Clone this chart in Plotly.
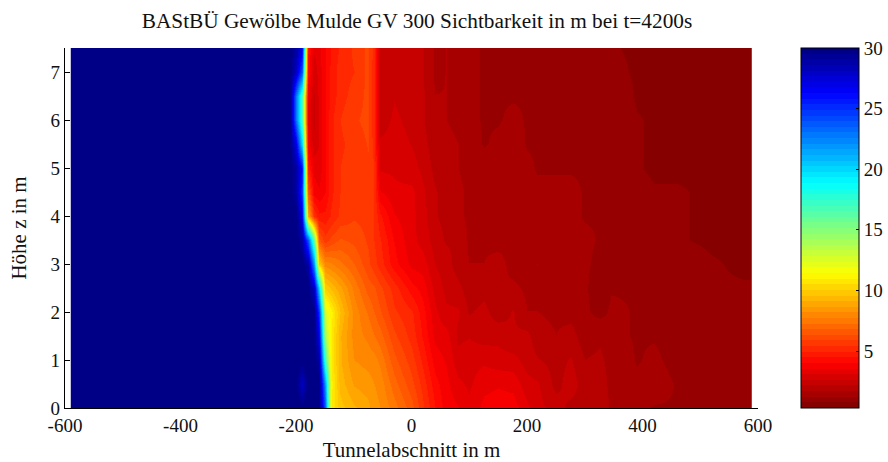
import plotly.graph_objects as go

x_positions = [-585,-575,-210,-200,-190,-180,-170,-160,-150,-140,-125,-100,-75,-65,-55,-30,
               0,20,40,60,80,100,125,150,175,200,217,250,275,300,326,345,390,420,460,520,575,585]
heights = [0,0.5,1,1.5,2,2.5,3,3.5,4,4.5,5,5.5,6,6.5,7,7.5]

row_000 = [30,30,30,30,30,30,30,30,24,11,9.8,9.2,8.8,8.4,8.2,7.5, 6.5,5.5,4.5,3.8,3.6,3.2,3.7,3.8,3.8,3.2,2.8,2.4,2.0,1.9,2.1,1.6,1.3,1.2,1.2,1.1,1.0,1.0]
row_050 = [30,30,30,30,28,30,30,30,22,11.2,9.4,8.6,8.4,8.2,8,7, 6,5.2,4.2,3.7,3.2,3.0,3.4,3.5,3.4,2.8,2.7,2.0,2.4,1.9,2.0,1.5,1.3,1.4,1.2,1.1,1.0,1.0]
row_100 = [30,30,30,30,30,30,30,29,17,11,9.2,8.2,8.0,7.9,7.6,6.5, 5.6,4.8,3.8,3.5,2.8,2.9,3.0,2.8,2.8,2.4,2.2,2.0,2.2,1.7,1.8,1.5,1.2,1.3,1.1,1.0,0.9,0.9]
row_150 = [30,30,30,30,30,30,30,27,14,11,9.2,8.0,7.6,7.3,7,6, 5.2,4.4,3.4,3.3,2.5,2.6,2.4,2.5,2.2,2.3,1.9,1.7,1.9,1.4,1.6,1.3,1.2,1.2,1.1,1.0,0.8,0.8]
row_200 = [30,30,30,30,30,30,30,25,12.5,11.2,9.6,8.0,7.2,6.8,6.4,5.5, 5,4.2,3.2,2.7,2.7,2.1,2.3,1.9,2.2,1.7,1.7,1.6,1.5,1.3,1.1,1.3,1.2,1.1,1.1,1.0,0.8,0.8]
row_250 = [30,30,30,30,30,30,28,20,10,9.5,8.8,7.6,6.6,6.4,6,5.2, 4.2,3.8,2.9,2.5,2.3,1.9,2.0,1.7,1.8,1.6,1.6,1.6,1.5,1.3,0.9,1.2,1.2,1.1,1.1,0.8,0.8,0.8]
row_300 = [30,30,30,30,30,29,22,10,8,7.8,7.4,6.8,6,5.6,5.2,4.2, 3.4,3.3,2.6,2.4,1.9,1.7,1.7,1.9,1.5,1.4,1.7,1.4,1.4,1.3,1.1,1.2,1.2,1.1,1.0,0.8,0.7,0.7]
row_350 = [30,30,30,30,29,24,16,6.5,5.6,6,6.4,6.2,5.8,5.4,5,4, 3.2,2.9,2.4,2.1,2.1,1.6,1.6,1.5,1.6,1.3,1.3,1.4,1.3,1.3,1.2,1.2,1.1,1.2,0.8,0.7,0.7,0.7]
row_400 = [30,30,30,30,27,9,5.4,4.6,4.6,5,5.5,5.8,5.7,5.4,4.6,3.6, 3.2,2.8,2.2,2.0,1.8,1.6,1.6,1.6,1.5,1.4,1.3,1.3,1.3,1.2,1.2,1.2,1.1,1.0,0.8,0.7,0.7,0.7]
row_450 = [30,30,30,29,25,6.5,3.8,3.6,4,4.8,5.4,5.7,5.8,5.4,3.6,3.2, 3.2,2.7,2.2,2.0,1.8,1.6,1.5,1.5,1.4,1.3,1.3,1.3,1.3,1.2,1.2,1.2,0.9,0.8,0.8,0.7,0.7,0.7]
row_500 = [30,30,30,29,26,4.8,3.4,3.3,3.9,4.8,5.4,5.7,5.8,5.4,3,3, 2.8,2.5,2.0,1.9,1.7,1.5,1.4,1.5,1.4,1.3,1.2,1.2,1.2,1.2,1.2,1.2,0.8,0.7,0.7,0.7,0.7,0.7]
row_550 = [30,30,30,27,20,3.8,2.8,3.1,4,4.8,5.3,5.6,5.9,5.2,2.7,2.8, 2.6,2.3,1.9,1.8,1.7,1.4,1.2,1.3,1.4,1.2,1.2,1.2,1.2,1.2,1.2,1.2,0.8,0.7,0.7,0.7,0.7,0.7]
row_600 = [30,30,30,23,17,3.4,2.5,3.2,4,4.8,5.4,5.8,6,5,2.4,2.7, 2.5,2.2,1.8,1.7,1.6,1.3,1.2,1.2,1.3,1.2,1.2,1.2,1.2,1.2,1.2,1.2,0.8,0.7,0.7,0.7,0.7,0.7]
row_650 = [30,30,30,23,17,3.6,2.6,3.2,4,4.6,5.2,5.6,6,5,2.3,2.6, 2.4,2.2,1.7,1.7,1.6,1.3,1.2,1.2,1.2,1.2,1.0,1.2,1.2,1.2,1.2,1.2,0.7,0.7,0.7,0.7,0.7,0.7]
row_700 = [30,30,30,28,24,4.4,2.8,3.3,4,4.6,5.2,5.4,6,5,2.2,2.4, 2.3,2.2,1.6,1.7,1.6,1.3,1.2,1.2,1.2,1.2,0.9,1.2,1.2,1.2,1.2,0.9,0.7,0.7,0.7,0.7,0.7,0.7]
row_750 = [30,30,30,29,27,4.5,3.2,3.4,4,4.5,5,5.5,6,5.2,2.2,2.3, 2.3,2.2,1.6,1.7,1.6,1.3,1.2,1.2,1.2,1.2,0.8,1.2,1.2,1.2,1.2,0.8,0.7,0.7,0.7,0.7,0.7,0.7]

z_rows = [row_000,row_050,row_100,row_150,row_200,row_250,row_300,row_350,row_400,row_450,row_500,row_550,row_600,row_650,row_700,row_750]
colorbar_ticks = [5,10,15,20,25,30]
title_text = "BAStBÜ Gewölbe Mulde GV 300 Sichtbarkeit in m bei t=4200s"
x_label = "Tunnelabschnitt in m"
y_label = "Höhe z in m"
x_ticks = [-600,-400,-200,0,200,400,600]
x_tick_labels = ["-600","-400","-200","0","200","400","600"]
y_ticks = [0,1,2,3,4,5,6,7]

def jet_color(t):
    r = min(4*t - 1.5, -4*t + 4.5)
    g = min(4*t - 0.5, -4*t + 3.5)
    b = min(4*t + 0.5, -4*t + 2.5)
    c = [round(255*max(0, min(1, v))) for v in (r, g, b)]
    return f"rgb({c[0]},{c[1]},{c[2]})"

levels = 64
scale = []
for i in range(levels):
    col = jet_color(1 - (i + 0.5) / levels)
    scale.append([i / levels, col])
    scale.append([(i + 1) / levels, col])

FONT = "Liberation Serif"
ZMIN, ZMAX = 0.3, 30
fig = go.Figure(go.Heatmap(
    x=x_positions, y=heights, z=z_rows, zmin=ZMIN, zmax=ZMAX, colorscale=scale, zsmooth="best",
    hoverinfo="skip",
    colorbar=dict(
        x=1.062, xanchor="left", xref="paper", y=0.5, yanchor="middle", len=1, lenmode="fraction",
        thickness=58, thicknessmode="pixels", ypad=0, xpad=0, outlinewidth=1, outlinecolor="#000",
        tickvals=colorbar_ticks, ticks="inside", ticklen=3, tickcolor="#000", tickwidth=1,
        tickfont=dict(family=FONT, size=19, color="#111"),
    ),
))
axis_common = dict(
    showgrid=False, zeroline=False, showline=True, linecolor="#000", linewidth=1.2,
    ticks="inside", ticklen=5, tickcolor="#000", tickwidth=1, layer="below traces",
    tickfont=dict(family=FONT, size=19, color="#111"),
)
fig.update_layout(
    width=888, height=462, autosize=False, margin=dict(l=65, r=130, t=48, b=54, autoexpand=False),
    paper_bgcolor="#fff", plot_bgcolor="#fff",
    title=dict(text=title_text, x=417/888, xanchor="center", y=1-21/462, yanchor="middle",
               font=dict(family=FONT, size=21.3, color="#111")),
    xaxis=dict(range=[-600,600], tickvals=x_ticks, ticktext=x_tick_labels,
               title=dict(text=x_label, standoff=10, font=dict(family=FONT, size=21, color="#111")), **axis_common),
    yaxis=dict(range=[0,7.5], tickvals=y_ticks,
               title=dict(text=y_label, standoff=18, font=dict(family=FONT, size=21, color="#111")), **axis_common),
)
for v in colorbar_ticks[:-1]:
    fig.add_shape(type="line", xref="paper", yref="paper", x0=1.062, x1=1.0665,
                  y0=(v-ZMIN)/(ZMAX-ZMIN), y1=(v-ZMIN)/(ZMAX-ZMIN), line=dict(color="#000", width=1))
fig.write_html("out.html", config={"displayModeBar": False},
               post_script="document.body.style.margin='0';document.documentElement.style.overflow='hidden';")
